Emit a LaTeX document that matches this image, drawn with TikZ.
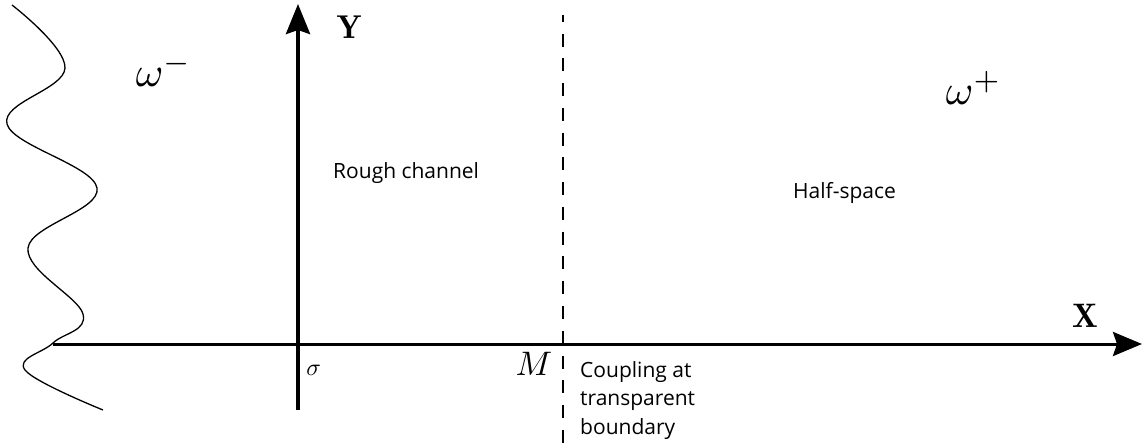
\documentclass[tikz,border=0pt]{standalone}
\usepackage{fontspec}
\setsansfont{Open Sans}
\usetikzlibrary{arrows.meta}
\tikzset{
  axisY/.style={line width=4pt,-{Stealth[length=30pt,width=24pt,inset=4pt]}},
  axisX/.style={line width=3pt,-{Stealth[length=29pt,width=24pt,inset=4pt]}},
  boundary/.style={line width=2.8pt,dash pattern=on 13pt off 11.75pt,dash phase=6pt},
  wave/.style={line width=1.3pt},
  lbl/.style={inner sep=0pt,anchor=base west,font=\sffamily\fontsize{21}{28.5}\selectfont},
  mlbl/.style={inner sep=0pt,anchor=base west}
}
\begin{document}
\begin{tikzpicture}[x=1pt,y=-1pt]
\useasboundingbox (0,0) rectangle (1142,443);
% wavy rough boundary
\draw[wave] plot[smooth,tension=0.65] coordinates {(12,5) (65,68) (7,124) (97,188) (28,248) (83,314) (53,343) (25,370) (103,410)};
\coordinate (xstart) at (53,344);
\coordinate (xend) at (1142,344);
\coordinate (ybot) at (298,410);
\coordinate (ytop) at (298,4);
\coordinate (dtop) at (563,15);
\coordinate (dbot) at (563,443);
\draw[axisX] (xstart) -- (xend);
\draw[axisY] (ybot) -- (ytop);
\draw[boundary] (dtop) -- (dbot);
% labels
\node[mlbl,scale=3.3] (Ylab) at (336,39) {$\mathbf{Y}$};
\node[mlbl,scale=3.4] (Xlab) at (1072,327) {$\mathbf{X}$};
\node[mlbl,scale=4.2] (wm) at (135,87) {$\omega^-$};
\node[mlbl,scale=4.2] (wp) at (945,105) {$\omega^+$};
\node[mlbl,scale=2.4] (sig) at (306,375) {$\sigma$};
\node[mlbl,anchor=base east,scale=3.4] (Mlab) at (553,375) {$M$};
\node[lbl] (rough) at (333,179) {Rough channel};
\node[lbl] (half) at (793,199) {Half-space};
\node[lbl,align=left,anchor=north west] (coup) at (580,361) {Coupling at\\transparent\\boundary};
\end{tikzpicture}
\end{document}
